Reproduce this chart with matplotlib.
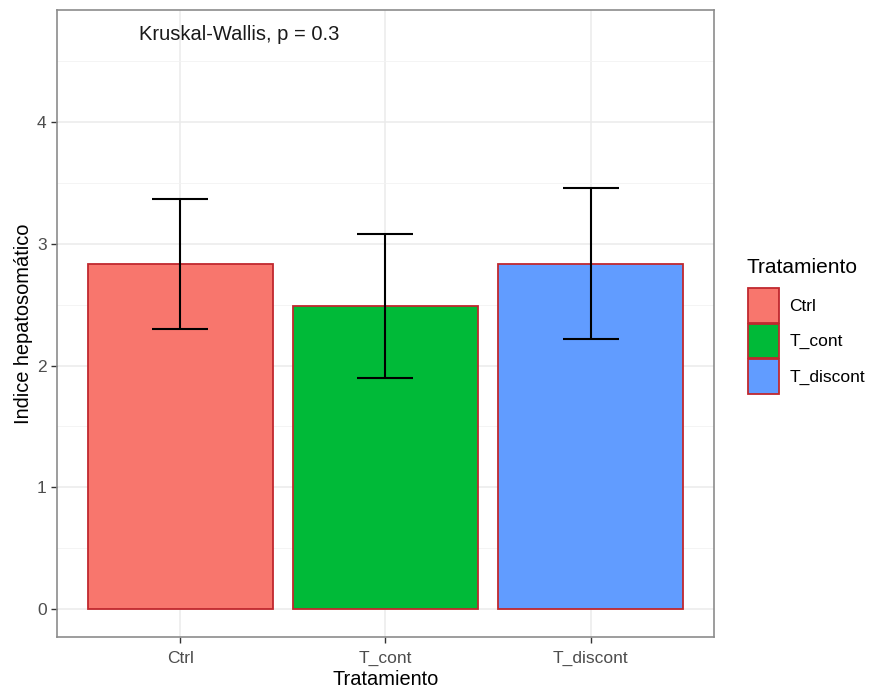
import matplotlib.pyplot as plt
from matplotlib.patches import Patch

# Group means and error-bar limits per treatment
tratamientos = ['Ctrl', 'T_cont', 'T_discont']
medias = [2.83, 2.49, 2.83]
inferior = [2.30, 1.90, 2.22]
superior = [3.37, 3.08, 3.46]
colores = ['#F8766D', '#00BA38', '#619CFF']
etiqueta_test = 'Kruskal-Wallis, p = 0.3'

plt.rcParams['font.family'] = ['Liberation Sans', 'DejaVu Sans']

fig = plt.figure(figsize=(8.69, 6.9), dpi=100)
ax = fig.add_axes([0.0656, 0.0768, 0.756, 0.9087])

x = list(range(1, len(tratamientos) + 1))
ax.bar(x, medias, width=0.9, color=colores, edgecolor='#C0282E',
       linewidth=1.3, zorder=2)

# Error bars drawn from the lower/upper limits
err_lo = [m - lo for m, lo in zip(medias, inferior)]
err_hi = [hi - m for m, hi in zip(medias, superior)]
ax.errorbar(x, medias, yerr=[err_lo, err_hi], fmt='none', ecolor='black',
            elinewidth=1.5, capsize=20, capthick=1.5, zorder=3)

ax.text(0.8, 4.72, etiqueta_test, ha='left', va='center', fontsize=14.5,
        color='#1A1A1A')

ax.set_xlim(0.4, 3.6)
ax.set_ylim(-0.23, 4.92)
ax.set_xticks(x)
ax.set_xticklabels(tratamientos)
ax.set_yticks([0, 1, 2, 3, 4])
ax.set_yticks([0.5, 1.5, 2.5, 3.5, 4.5], minor=True)
ax.set_xlabel('Tratamiento', fontsize=14.4, color='black', labelpad=3)
ax.set_ylabel('Indice hepatosomático', fontsize=14.4, color='black', labelpad=3)

ax.tick_params(axis='both', which='major', labelsize=12.5, labelcolor='#4D4D4D',
               color='#333333', length=4, width=1)
ax.tick_params(axis='x', which='major', pad=6)
ax.tick_params(axis='y', which='minor', length=0)

# theme_bw style grid and border
ax.grid(True, which='major', color='#EBEBEB', linewidth=1.1, zorder=0)
ax.grid(True, which='minor', axis='y', color='#F2F2F2', linewidth=0.6, zorder=0)
ax.set_axisbelow(True)
for sp in ax.spines.values():
    sp.set_color('#8C8C8C')
    sp.set_linewidth(1.2)

# Legend: title placed separately to leave room above the keys
fig.text(0.8596, 0.613, 'Tratamiento', ha='left', va='center', fontsize=15,
         color='black')
handles = [Patch(facecolor=c, edgecolor='#C0282E', linewidth=1.3) for c in colores]
fig.legend(handles, tratamientos, loc='upper left',
           bbox_to_anchor=(0.8608, 0.5826), frameon=False, fontsize=12.5,
           handlelength=1.77, handleheight=2.7,
           handletextpad=0.6, labelspacing=0.05,
           borderaxespad=0, borderpad=0)

plt.savefig('out.png', dpi=100)
